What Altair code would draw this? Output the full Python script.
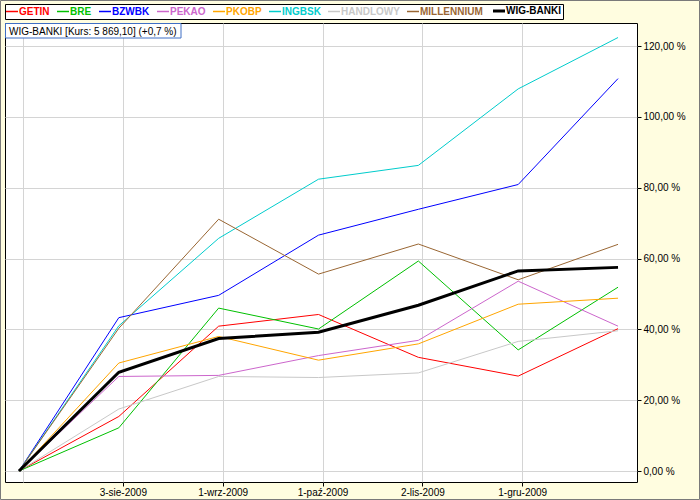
import altair as alt
import pandas as pd

series = ["GETIN", "BRE", "BZWBK", "PEKAO", "PKOBP", "INGBSK", "HANDLOWY", "MILLENNIUM", "WIG-BANKI"]
colors = ["#ff0000", "#00c000", "#0000ff", "#cc66cc", "#ffa500", "#00cccc", "#c8c8c8", "#996633", "#000000"]

steps = [0, 1, 2, 3, 4, 5, 6]
getin = [0, 15.4, 40.9, 44.2, 32.1, 26.8, 40.2]
bre = [0, 12.2, 46.0, 40.1, 59.3, 34.2, 51.9]
bzwbk = [0, 43.3, 49.6, 66.6, 73.9, 80.9, 110.8]
pekao = [0, 26.7, 27.0, 32.6, 36.9, 53.6, 40.9]
pkobp = [0, 30.5, 38.0, 31.3, 35.9, 47.1, 48.8]
ingbsk = [0, 41.0, 65.7, 82.4, 86.3, 107.9, 122.4]
handlowy = [0, 17.5, 26.7, 26.4, 27.7, 36.6, 39.6]
millennium = [0, 40.3, 71.1, 55.6, 64.1, 54.0, 64.0]
wig_banki = [0, 27.9, 37.4, 39.2, 46.8, 56.5, 57.5]

tick_steps = [0, 1, 2, 3, 4, 5]
tick_labels = ["", "3-sie-2009", "1-wrz-2009", "1-paź-2009", "2-lis-2009", "1-gru-2009"]
y_ticks = [0, 20, 40, 60, 80, 100, 120]
info_text = "WIG-BANKI [Kurs: 5 869,10] (+0,7 %)"

values = [getin, bre, bzwbk, pekao, pkobp, ingbsk, handlowy, millennium, wig_banki]
rows = []
for name, vals in zip(series, values):
    for s, v in zip(steps, vals):
        rows.append({"series": name, "step": s, "value": v})
df = pd.DataFrame(rows)
df["order"] = df["series"].map({n: i for i, n in enumerate(series)})

label_map = "{" + ",".join(f"'{s}':'{l}'" for s, l in zip(tick_steps, tick_labels)) + "}"

FONT = "Liberation Sans"

lines = alt.Chart(df).mark_line(clip=True).encode(
    x=alt.X(
        "step:Q",
        scale=alt.Scale(domain=[-0.14, 6.19], nice=False, zero=False),
        axis=alt.Axis(
            values=tick_steps,
            labelExpr=f"{label_map}[datum.value]",
            title=None,
            grid=True,
            gridColor="#d4d4d4",
            tickOffset=4,
            tickSize=4,
            tickColor={"condition": {"test": "datum.value == 0", "value": "transparent"}, "value": "black"},
            domain=False,
            labelFont=FONT,
            labelFontSize=10,
            labelColor="black",
            labelPadding=1,
        ),
    ),
    y=alt.Y(
        "value:Q",
        scale=alt.Scale(domain=[-3.1, 126.5], nice=False, zero=False),
        axis=alt.Axis(
            orient="right",
            values=y_ticks,
            labelExpr="replace(format(datum.value, '.2f'), '.', ',') + ' %'",
            title=None,
            grid=True,
            gridColor="#d4d4d4",
            tickSize=4,
            tickColor="black",
            domain=False,
            labelFont=FONT,
            labelFontSize=10,
            labelColor="black",
            labelPadding=2,
        ),
    ),
    color=alt.Color(
        "series:N",
        scale=alt.Scale(domain=series, range=colors),
        sort=series,
        legend=alt.Legend(
            orient="top",
            direction="horizontal",
            title=None,
            symbolType="stroke",
            symbolSize=144,
            symbolStrokeWidth=alt.ExprRef("datum.value == 'WIG-BANKI' ? 3 : 1.5"),
            labelColor=alt.ExprRef("scale('color', datum.value)"),
            labelFont=FONT,
            labelFontSize=10,
            labelFontWeight="bold",
            labelOffset=2,
            columnPadding=4,
            strokeColor="black",
            fillColor="white",
            padding=2,
            offset=4,
        ),
    ),
    strokeWidth=alt.condition(alt.datum.series == "WIG-BANKI", alt.value(3), alt.value(1)),
    order="order:Q",
)

info_df = pd.DataFrame({"t": [info_text]})
box = alt.Chart(info_df).mark_rect(fill="white", stroke="#3f6fc4", strokeWidth=1).encode(
    x=alt.value(0.5), x2=alt.value(176), y=alt.value(0.5), y2=alt.value(15)
)
txt = alt.Chart(info_df).mark_text(
    align="left", baseline="middle", font=FONT, fontSize=10, color="black"
).encode(x=alt.value(4), y=alt.value(8.5), text="t:N")

frame = alt.Chart(info_df).mark_rect(fill=None, stroke="#7a7a7a", strokeWidth=1, clip=False).encode(
    x=alt.value(-4.5), x2=alt.value(694.5), y=alt.value(-22.5), y2=alt.value(476.5)
)

chart = alt.layer(frame, lines, box, txt).properties(
    width=632,
    height=459,
    autosize=alt.AutoSizeParams(type="none"),
    padding={"left": 5, "top": 23, "right": 63, "bottom": 18},
    background="#fffde0",
).configure_view(
    fill="white", stroke="black", strokeWidth=1
)

chart.save("out.html", embed_options={"renderer": "svg", "actions": False})
